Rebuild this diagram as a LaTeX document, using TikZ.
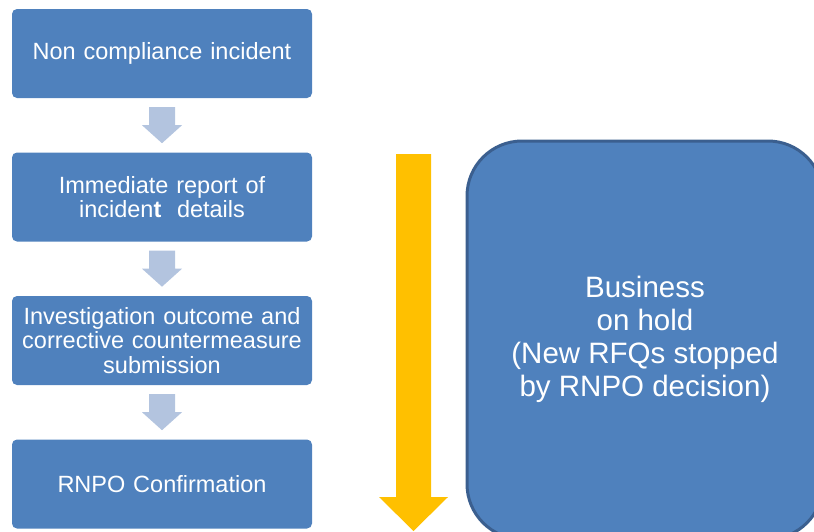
\documentclass[tikz,border=0pt]{standalone}
\usepackage{fontspec}
\setmainfont{Liberation Sans}
\usepackage{tikz}

\definecolor{boxblue}{HTML}{4F81BD}
\definecolor{edgeblue}{HTML}{3B5F8F}
\definecolor{paleblue}{HTML}{B3C4DF}
\definecolor{gold}{HTML}{FFC000}

\begin{document}
\begin{tikzpicture}[x=1pt,y=-1pt,
    stepbox/.style={rectangle,rounded corners=5pt,fill=boxblue,text=white,minimum width=300pt,minimum height=89pt,text width=296pt,inner sep=0pt,align=center,font=\fontsize{23.5}{24.5}\selectfont},
    smallarrow/.style={fill=paleblue}]
    \useasboundingbox (0,0) rectangle (814,531);

    \node at (162,53.5) [stepbox] (a) {Non compliance incident};
    \node at (162,197) [stepbox] (b) {Immediate report of\\inciden\textbf{t}~ details};
    \node at (162,340.5) [stepbox] (c) {Investigation outcome and\\corrective countermeasure\\submission};
    \node at (162,484) [stepbox] (d) {RNPO Confirmation};

    \fill[smallarrow] (a.south) ++(-13,9) -- ++(26,0) -- ++(0,18) -- ++(7,0) -- ++(-20,18) -- ++(-20,-18) -- ++(7,0) -- cycle;
    \fill[smallarrow] (b.south) ++(-13,9) -- ++(26,0) -- ++(0,18) -- ++(7,0) -- ++(-20,18) -- ++(-20,-18) -- ++(7,0) -- cycle;
    \fill[smallarrow] (c.south) ++(-13,9) -- ++(26,0) -- ++(0,18) -- ++(7,0) -- ++(-20,18) -- ++(-20,-18) -- ++(7,0) -- cycle;

    % time arrow
    \fill[gold] (396,154) -- (431,154) -- (431,497) -- (448,497) -- (413.5,531) -- (379,497) -- (396,497) -- cycle;

    \draw[edgeblue,line width=3pt,fill=boxblue,rounded corners=55pt] (467,141) rectangle (823,539);
    \node at (645,339) [text=white,align=center,font=\fontsize{29.5}{33}\selectfont] (e) {Business\\on hold\\(New RFQs stopped\\by RNPO decision)};
\end{tikzpicture}
\end{document}
